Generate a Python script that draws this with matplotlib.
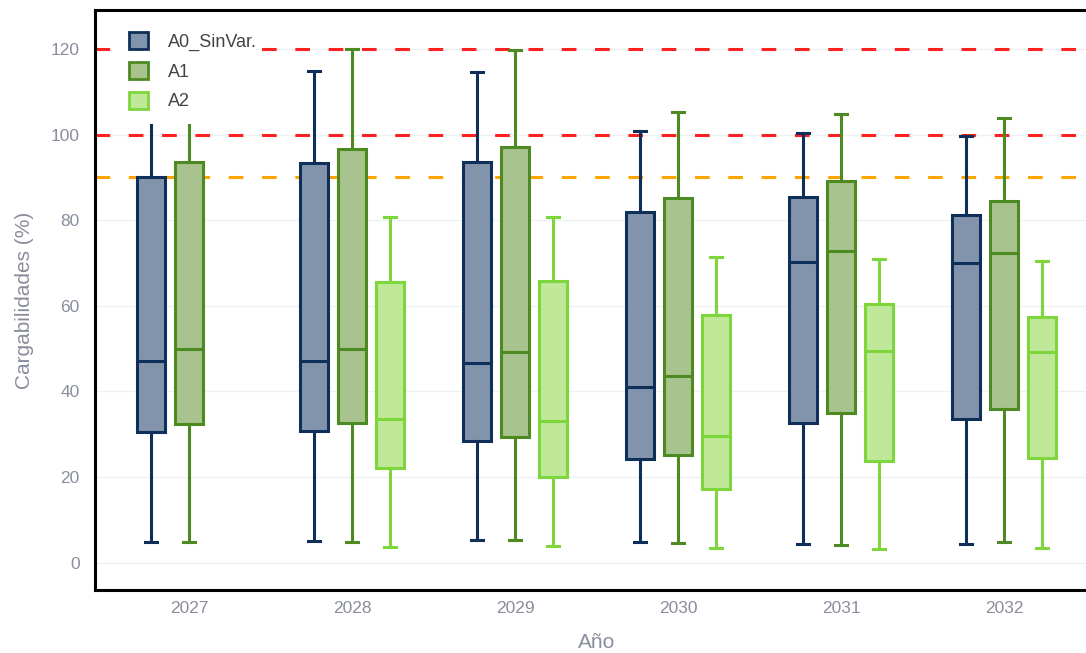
import matplotlib.pyplot as plt
from matplotlib.patches import Patch, Rectangle
import numpy as np

plt.rcParams['font.family'] = ['Liberation Sans', 'DejaVu Sans']

years = ['2027', '2028', '2029', '2030', '2031', '2032']
series = ['A0_SinVar.', 'A1', 'A2']

# box statistics per series, one value per year (None = no box)
a0_lo  = [4.9, 5.1, 5.3, 4.7, 4.4, 4.4]
a0_q1  = [30.6, 30.8, 28.3, 24.2, 32.7, 33.5]
a0_med = [47.0, 47.1, 46.6, 41.0, 70.2, 70.0]
a0_q3  = [90.2, 93.3, 93.5, 82.0, 85.4, 81.3]
a0_hi  = [115.0, 114.9, 114.6, 100.9, 100.4, 99.7]

a1_lo  = [4.9, 4.9, 5.3, 4.5, 4.2, 4.7]
a1_q1  = [32.4, 32.7, 29.4, 25.2, 34.9, 35.9]
a1_med = [49.9, 49.9, 49.2, 43.6, 72.8, 72.4]
a1_q3  = [93.7, 96.7, 97.1, 85.2, 89.1, 84.4]
a1_hi  = [120.0, 120.0, 119.8, 105.4, 104.9, 104.0]

a2_lo  = [None, 3.7, 3.9, 3.4, 3.1, 3.4]
a2_q1  = [None, 22.0, 20.1, 17.1, 23.7, 24.4]
a2_med = [None, 33.6, 33.2, 29.6, 49.5, 49.1]
a2_q3  = [None, 65.5, 65.7, 57.9, 60.4, 57.3]
a2_hi  = [None, 80.8, 80.8, 71.5, 71.0, 70.5]

limits = [120, 100, 90]
limit_colors = ['#ff2020', '#ff2020', '#ffa500']

edge_colors = ['#0e2f5a', '#4e8a22', '#7dd63c']
fill_colors = ['#8294ab', '#a8c38d', '#bfe898']

all_stats = [
    (a0_lo, a0_q1, a0_med, a0_q3, a0_hi),
    (a1_lo, a1_q1, a1_med, a1_q3, a1_hi),
    (a2_lo, a2_q1, a2_med, a2_q3, a2_hi),
]

fig = plt.figure(figsize=(10.86, 6.53), dpi=100)
ax = fig.add_axes([0.0875, 0.0965, 0.9235, 0.888])

# threshold lines
for lim, c in zip(limits, limit_colors):
    ax.axhline(lim, color=c, lw=2.2, ls=(0, (4.8, 6.1)), zorder=1)

offsets = [-0.232, 0.0, 0.232]
x = np.arange(len(years))
for k, (lo, q1, med, q3, hi) in enumerate(all_stats):
    stats, pos = [], []
    for i in range(len(years)):
        if med[i] is None:
            continue
        stats.append(dict(whislo=lo[i], q1=q1[i], med=med[i], q3=q3[i],
                          whishi=hi[i], fliers=[]))
        pos.append(x[i] + offsets[k])
    ec = edge_colors[k]
    ax.bxp(stats, positions=pos, widths=0.17, capwidths=0.075,
           patch_artist=True, showfliers=False, manage_ticks=False,
           boxprops=dict(facecolor=fill_colors[k], edgecolor=ec, linewidth=2.2),
           medianprops=dict(color=ec, linewidth=2.2),
           whiskerprops=dict(color=ec, linewidth=2.2),
           capprops=dict(color=ec, linewidth=2.2), zorder=3)

ax.set_xlim(-0.577, 5.577)
ax.set_ylim(-6.4, 129.1)
ax.set_xticks(x)
ax.set_xticklabels(years)
ax.set_yticks(np.arange(0, 121, 20))
ax.tick_params(length=0, labelsize=12.5, colors='#8a8d9c')
ax.tick_params(axis='x', pad=8)
ax.tick_params(axis='y', pad=11)
ax.grid(axis='y', color='#eef0f4', lw=1.0, zorder=0)
ax.set_axisbelow(True)
for s in ax.spines.values():
    s.set_linewidth(2.2)
    s.set_color('black')

ax.set_ylabel('Cargabilidades (%)', fontsize=15, color='#8a8d9c', labelpad=12)
ax.set_xlabel('Año', fontsize=15, color='#8a8d9c', labelpad=12)

# white legend background (covers the lines behind it, as in the original)
ax.add_patch(Rectangle((112, 653 - 124), 144, 110, transform=None,
                       facecolor='white', edgecolor='none', zorder=4))

handles = [Patch(facecolor=fill_colors[k], edgecolor=edge_colors[k], linewidth=2.0,
                 label=series[k]) for k in range(3)]
leg = ax.legend(handles=handles, loc='upper left', bbox_to_anchor=(0.018, 0.99),
                frameon=False, fontsize=13, handlelength=1.05, handleheight=1.05,
                labelspacing=0.62, handletextpad=1.1, borderpad=0.4)
leg.set_zorder(5)
for t in leg.get_texts():
    t.set_color('#444444')

fig.savefig('out.png', dpi=100)
